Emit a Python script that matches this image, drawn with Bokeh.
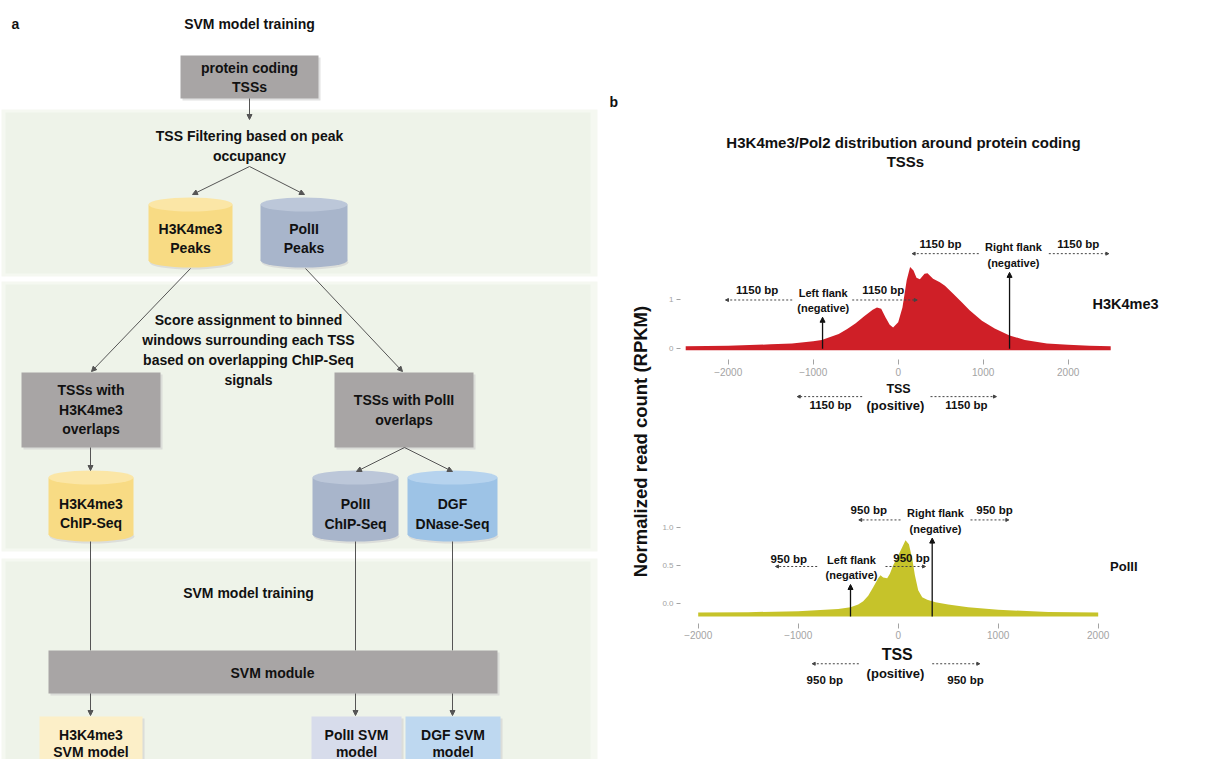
from bokeh.plotting import figure
from bokeh.layouts import row, column
from bokeh.models import Arrow, NormalHead, FixedTicker, NumeralTickFormatter, Range1d
from bokeh.core.properties import value
from bokeh.embed import file_html
from bokeh.resources import INLINE

FONT = "Liberation Sans"

# ---------------- panel b data ----------------
h3_pos = [-2500, -2000, -1500, -1250, -1000, -900, -800, -700, -600, -500,
          -400, -300, -250, -200, -150, -100, -60, 0, 50, 100,
          140, 180, 215, 255, 310, 345, 410, 490, 550, 650,
          745, 840, 985, 1135, 1310, 1490, 1750, 2000, 2250, 2500]
h3_val = [0.05, 0.06, 0.09, 0.11, 0.155, 0.18, 0.24, 0.30, 0.40, 0.52,
          0.66, 0.79, 0.84, 0.81, 0.64, 0.49, 0.43, 0.54, 0.84, 1.39,
          1.66, 1.59, 1.44, 1.41, 1.52, 1.53, 1.42, 1.35, 1.28, 1.11,
          0.95, 0.78, 0.57, 0.41, 0.27, 0.18, 0.11, 0.08, 0.06, 0.05]
h3_base = -0.03

pol_pos = [-2000, -1500, -1000, -600, -477, -400, -350, -300, -250, -200,
           -177, -150, -110, -83, -50, 0, 40, 73, 107, 140,
           167, 200, 240, 290, 373, 500, 700, 1000, 1500, 2000]
pol_val = [-0.123, -0.118, -0.106, -0.075, -0.053, -0.018, 0.026, 0.10, 0.21, 0.33,
           0.37, 0.34, 0.33, 0.39, 0.50, 0.63, 0.74, 0.83, 0.78, 0.59,
           0.37, 0.17, 0.08, 0.044, 0.013, -0.018, -0.053, -0.088, -0.115, -0.123]
pol_base = -0.176

x_tick_values = [-2000, -1000, 0, 1000, 2000]
h3_y_ticks = [0, 1]
pol_y_ticks = [0.0, 0.5, 1.0]

h3_window_label = "1150 bp"
pol_window_label = "950 bp"

# flank arrows: x position, tip height
h3_flank_x = [-890, 1310]
h3_flank_tip = [0.64, 1.55]
pol_flank_x = [-477, 340]
pol_flank_tip = [0.247, 0.86]

# dashed window arrows: (x_start, x_end, y)
h3_windows = [(948, 164, 1.93), (1772, 2478, 1.93), (-1247, -2032, 0.99),
              (-541, 224, 0.99), (-424, -1188, -0.97), (380, 1156, -0.97)]
h3_window_text = [(498, 2.13), (2118, 2.13), (-1659, 1.20), (-176, 1.20),
                  (-796, -1.15), (803, -1.15)]
pol_windows = [(23, -394, 1.10), (723, 1106, 1.10), (-810, -1227, 0.485),
               (-127, 273, 0.485), (-394, -860, -0.80), (340, 816, -0.80)]
pol_window_text = [(-294, 1.23), (963, 1.23), (-1094, 0.586), (133, 0.60),
                   (-734, -1.02), (673, -1.02)]

RED = "#CF1F27"
OLIVE = "#C6C32A"
TICK_GRAY = "#A3A3A3"


def T(fig, x, y, s, size=14, color="#111111", align="center", style="bold", angle=0.0):
    fig.text(x=[x], y=[y], text=[s], text_font=value(FONT), text_font_size=f"{size}px",
             text_font_style=style, text_color=color, text_align=align,
             text_baseline="middle", angle=angle)


def arr(fig, x0, y0, x1, y1, color="#555555", width=1.0, size=6, dash="solid"):
    fig.add_layout(Arrow(x_start=x0, y_start=y0, x_end=x1, y_end=y1,
                         line_color=color, line_width=width, line_dash=dash,
                         end=NormalHead(size=size, fill_color=color, line_color=color,
                                        line_width=1)))


# ---------------- panel a : flowchart ----------------
LEFT_W = 656
L = figure(width=LEFT_W, height=759, x_range=Range1d(0, LEFT_W), y_range=Range1d(759, 0),
           x_axis_type=None, y_axis_type=None, output_backend="svg",
           toolbar_location=None, min_border=0)
L.outline_line_color = None
L.background_fill_color = "white"

# green stage panels
for top, bot in [(112, 273), (284, 548), (561, 762)]:
    L.quad(left=[1], right=[597], top=[top - 3], bottom=[bot + 3],
           fill_color="#F5F8F1", line_color=None)
    L.quad(left=[5], right=[590], top=[top], bottom=[bot],
           fill_color="#EEF3E9", line_color=None)

GRAY_BOX = "#A8A5A5"


def box(x0, x1, y0, y1, color, lines, ys, cx=None):
    L.quad(left=[x0 + 2], right=[x1 + 2], top=[y0 + 2], bottom=[y1 + 2],
           fill_color="#CFCFCF", line_color=None, fill_alpha=0.6)
    L.quad(left=[x0], right=[x1], top=[y0], bottom=[y1], fill_color=color, line_color=None)
    c = (x0 + x1) / 2 if cx is None else cx
    for s, y in zip(lines, ys):
        T(L, c, y, s)


def cylinder(x0, x1, y0, y1, body, topc, lines, ys):
    eh = 14
    cx = (x0 + x1) / 2
    L.ellipse(x=[cx + 1], y=[y1 - eh / 2 + 2], width=[x1 - x0], height=[eh],
              fill_color="#D0D0D0", line_color=None, fill_alpha=0.6)
    L.ellipse(x=[cx], y=[y1 - eh / 2], width=[x1 - x0], height=[eh],
              fill_color=body, line_color=None)
    L.quad(left=[x0], right=[x1], top=[y0 + eh / 2], bottom=[y1 - eh / 2],
           fill_color=body, line_color=None)
    L.ellipse(x=[cx], y=[y0 + eh / 2], width=[x1 - x0], height=[eh],
              fill_color=topc, line_color=None)
    for s, y in zip(lines, ys):
        T(L, cx, y, s)


T(L, 11, 23, "a", align="left")
T(L, 249, 23, "SVM model training")

box(180, 318, 55, 98, GRAY_BOX, ["protein coding", "TSSs"], [67, 86])
arr(L, 249, 98, 249, 119, size=5)
T(L, 249, 135, "TSS Filtering based on peak")
T(L, 249, 155, "occupancy")
arr(L, 249, 166, 192, 194, size=5)
arr(L, 249, 166, 304, 194, size=5)

YEL, YEL_T = "#F8DB84", "#FBE6A6"
BLU, BLU_T = "#A8B5CB", "#BCC7D9"
SKY, SKY_T = "#9DC3E6", "#B6D3EE"

cylinder(148, 232, 197, 267, YEL, YEL_T, ["H3K4me3", "Peaks"], [228, 247])
cylinder(260, 347, 197, 267, BLU, BLU_T, ["PolII", "Peaks"], [228, 247])

arr(L, 190, 268, 91, 371, size=5)
arr(L, 305, 268, 402, 371, size=5)
for s, y in zip(["Score assignment to binned", "windows surrounding each TSS",
                 "based on overlapping ChIP-Seq", "signals"], [319, 339, 359, 379]):
    T(L, 248, y, s)

box(21, 160, 372, 447, GRAY_BOX, ["TSSs with", "H3K4me3", "overlaps"], [389, 409, 428])
box(334, 473, 372, 447, GRAY_BOX, ["TSSs with PolII", "overlaps"], [399, 419])

arr(L, 90, 447, 90, 470, size=5)
arr(L, 404, 447, 356, 471, size=5)
arr(L, 404, 447, 452, 471, size=5)

cylinder(48, 133, 470, 541, YEL, YEL_T, ["H3K4me3", "ChIP-Seq"], [503, 522])
cylinder(312, 398, 470, 541, BLU, BLU_T, ["PolII", "ChIP-Seq"], [503, 523])
cylinder(407, 497, 470, 541, SKY, SKY_T, ["DGF", "DNase-Seq"], [503, 523])

for x in [90, 355, 452]:
    L.line(x=[x, x], y=[541, 650], line_color="#555555", line_width=1)

T(L, 248, 592, "SVM model training")
box(48, 497, 650, 693, GRAY_BOX, ["SVM module"], [672], cx=272)
for x in [90, 355, 452]:
    arr(L, x, 693, x, 715, size=5)

box(39, 142, 716, 759, "#FCEFC8", ["H3K4me3", "SVM model"], [734, 751])
box(311, 401, 716, 759, "#D7DCEB", ["PolII SVM", "model"], [734, 751])
box(405, 500, 716, 759, "#BED8F0", ["DGF SVM", "model"], [734, 751])

# panel b label and shared y label (drawn in the left canvas)
T(L, 609, 101, "b", align="left")
T(L, 640, 441, "Normalized read count (RPKM)", size=18.5, angle=1.5708)

# ---------------- panel b : profiles ----------------
FRAME_L, FRAME_R = 680, 1211
X0_REF = 897.7
RIGHT_W = FRAME_R - LEFT_W


def make_chart(height, top_ref, bottom_ref, px_x, px_y, y0_ref, x_fix, y_ticks, fmt):
    xr = Range1d((FRAME_L - X0_REF) / px_x, (FRAME_R - X0_REF) / px_x)
    yr = Range1d((y0_ref - bottom_ref) / px_y, (y0_ref - top_ref) / px_y)
    p = figure(width=RIGHT_W, height=height, x_range=xr, y_range=yr,
               output_backend="svg", toolbar_location=None,
               min_border_left=FRAME_L - LEFT_W, min_border_right=0, min_border_top=0,
               min_border_bottom=0)
    p.outline_line_color = None
    p.grid.visible = False
    p.background_fill_color = "white"
    xa = p.xaxis[0]
    xa.ticker = FixedTicker(ticks=x_tick_values)
    xa.fixed_location = x_fix
    xa.axis_line_color = None
    xa.major_tick_line_color = TICK_GRAY
    xa.major_tick_in = 0
    xa.major_tick_out = 5
    xa.minor_tick_line_color = None
    xa.major_label_text_color = TICK_GRAY
    xa.major_label_text_font = FONT
    xa.major_label_text_font_size = "10px"
    xa.major_label_standoff = 3
    ya = p.yaxis[0]
    ya.ticker = FixedTicker(ticks=y_ticks)
    ya.formatter = NumeralTickFormatter(format=fmt)
    ya.axis_line_color = None
    ya.major_tick_line_color = TICK_GRAY
    ya.major_tick_in = 0
    ya.major_tick_out = 4
    ya.minor_tick_line_color = None
    ya.major_label_text_color = TICK_GRAY
    ya.major_label_text_font = FONT
    ya.major_label_text_font_size = "8px"
    ya.major_label_standoff = 3
    return p


# H3K4me3 chart
c1 = make_chart(422, 0, 422, 0.085, 49.3, 348.3, -0.227, h3_y_ticks, "0")
c1.varea(x=h3_pos, y1=[h3_base] * len(h3_pos), y2=h3_val, fill_color=RED)

T(c1, 62, 4.18, "H3K4me3/Pol2 distribution around protein coding", size=15)
T(c1, 85, 3.80, "TSSs", size=15)

for x, tip in zip(h3_flank_x, h3_flank_tip):
    arr(c1, x, 0, x, tip, color="#111111", width=1.3, size=5)
for (xs, xe, y) in h3_windows:
    arr(c1, xs, y, xe, y, color="#444444", width=1, size=3, dash="2 2")
for (x, y) in h3_window_text:
    T(c1, x, y, h3_window_label, size=11.5)
T(c1, -882, 1.14, "Left flank", size=11)
T(c1, -882, 0.82, "(negative)", size=11)
T(c1, 1356, 2.06, "Right flank", size=11)
T(c1, 1356, 1.74, "(negative)", size=11)
T(c1, 4, -0.81, "TSS", size=12.5)
T(c1, -33, -1.15, "(positive)", size=13)
T(c1, 2674, 0.91, "H3K4me3", size=14.5)

# PolII chart
c2 = make_chart(337, 422, 759, 0.1, 75.7, 602.7, -0.268, pol_y_ticks, "0.0")
c2.varea(x=pol_pos, y1=[pol_base] * len(pol_pos), y2=pol_val, fill_color=OLIVE)

for x, tip in zip(pol_flank_x, pol_flank_tip):
    arr(c2, x, pol_base, x, tip, color="#111111", width=1.3, size=5)
for (xs, xe, y) in pol_windows:
    arr(c2, xs, y, xe, y, color="#444444", width=1, size=3, dash="2 2")
for (x, y) in pol_window_text:
    T(c2, x, y, pol_window_label, size=11.5)
T(c2, -467, 0.577, "Left flank", size=11)
T(c2, -467, 0.366, "(negative)", size=11)
T(c2, 373, 1.19, "Right flank", size=11)
T(c2, 373, 0.98, "(negative)", size=11)
T(c2, -10, -0.678, "TSS", size=16)
T(c2, -27, -0.933, "(positive)", size=13)
T(c2, 2256, 0.485, "PolII", size=13)

layout = row(L, column(c1, c2, spacing=0), spacing=0)
open("out.html", "w").write(file_html(layout, INLINE))
